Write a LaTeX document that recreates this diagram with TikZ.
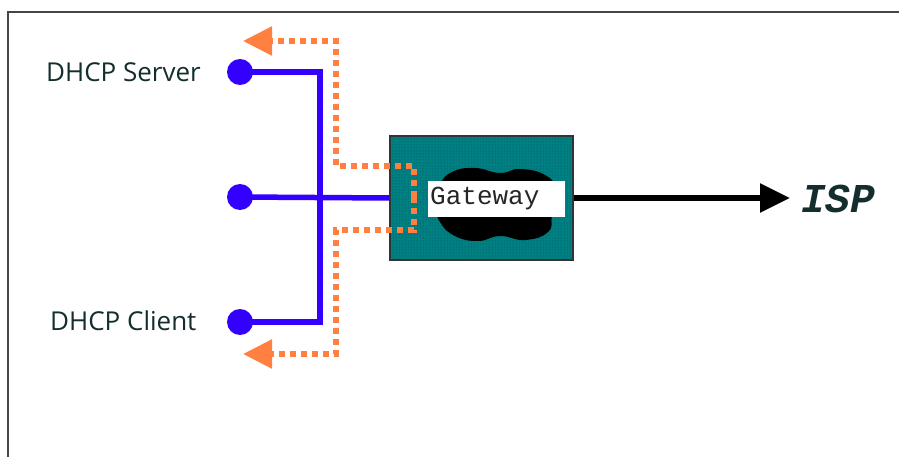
\documentclass[tikz,border=0pt]{standalone}
\usepackage{fontspec}
\setmainfont{Open Sans}
\newfontfamily\monofam{Liberation Mono}
\usetikzlibrary{arrows.meta,patterns}
\definecolor{netblue}{RGB}{51,0,255}
\definecolor{dorange}{RGB}{255,128,64}
\definecolor{gwteal}{RGB}{0,128,128}
\definecolor{gwspeck}{RGB}{0,70,110}
\definecolor{labtext}{RGB}{20,45,45}
\definecolor{framegray}{RGB}{70,70,70}
\tikzset{
  hostdot/.style={circle,fill=netblue,draw=none,minimum size=26pt,inner sep=0pt},
  bus/.style={draw=netblue,line width=5.5pt,line join=miter},
  reply/.style={draw=dorange,line width=5.5pt,dash pattern=on 6pt off 5pt,
    -{Triangle[length=29pt,width=28pt,fill=dorange,sep=0pt]}},
  hostlabel/.style={font=\fontsize{26}{30}\selectfont,text=labtext,inner sep=0pt,anchor=west},
  gwbox/.style={draw=black!80,line width=1.2pt,fill=gwteal,minimum width=183pt,minimum height=124pt,inner sep=0pt},
  gwlabel/.style={fill=white,font=\monofam\fontsize{26}{28}\selectfont,text=black!85,minimum width=137pt,minimum height=35pt,inner sep=0pt,anchor=west,text width=133pt,align=left},
  uplink/.style={draw=black,line width=5.5pt,-{Triangle[length=30pt,width=28pt]}},
  isplabel/.style={font=\monofam\bfseries\itshape\fontsize{41}{44}\selectfont,text=labtext,inner sep=0pt,anchor=west}
}
\begin{document}
\begin{tikzpicture}[x=1pt,y=-1pt]
\useasboundingbox (0,0) rectangle (899,457);
% frame
\draw[framegray,line width=2pt] (899,12) -- (8,12) -- (8,460);
% gateway
\node[gwbox] (gw) at (481.5,198) {};
\fill[pattern=dots,pattern color=gwspeck] (gw.south west) rectangle (gw.north east);
\fill[black] plot[smooth cycle,tension=0.8] coordinates {(440,185) (452,172) (475,168) (500,173) (520,169) (545,175) (556,190) (552,215) (548,232) (525,240) (500,236) (478,241) (455,236) (440,222) (436,205)};
\node[gwlabel] (gwl) at (428,199) {Gateway};
% hosts
\node[hostdot] (ds) at (240,72) {};
\node[hostdot] (dm) at (240,197) {};
\node[hostdot] (dc) at (240,322) {};
\coordinate (jt) at (320,72);
\coordinate (jb) at (320,322);
\draw[bus] (ds.center) -- (jt) -- (jb) -- (dc.center);
\draw[bus] (dm.center) -- (gw.west);
% labels
\node[hostlabel] (ls) at (46,72) {DHCP Server};
\node[hostlabel] (lc) at (50,321) {DHCP Client};
% uplink
\node[isplabel] (isp) at (801,199) {ISP};
\coordinate (ispend) at (790,198);
\draw[uplink] (gw.east |- 0,198) -- (ispend);
% dhcp replies
\coordinate (rt) at (243,41);
\coordinate (rb) at (243,354);
\draw[reply] (414,197) -- (414,166) -- (336,166) -- (336,41) -- (rt);
\draw[reply] (414,197) -- (414,230) -- (336,230) -- (336,354) -- (rb);
\end{tikzpicture}
\end{document}
